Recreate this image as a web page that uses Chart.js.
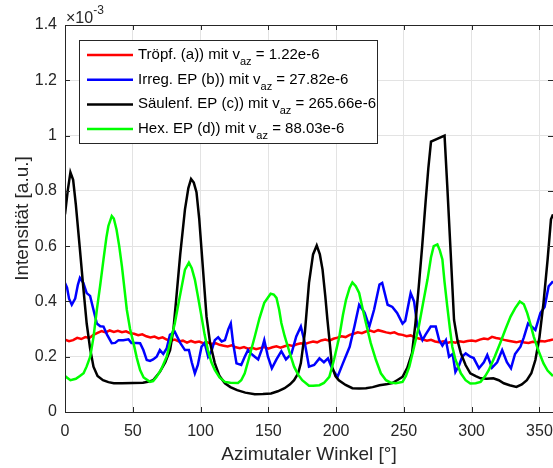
<!DOCTYPE html>
<html>
<head>
<meta charset="utf-8">
<script src="https://cdn.jsdelivr.net/npm/chart.js@4"></script>
<style>
  html, body { margin: 0; padding: 0; background: #fff; }
  canvas { display: block; }
</style>
</head>
<body>
<canvas id="intensity" width="553" height="468"></canvas>
<script>
// Intensität in Einheiten von 1e-3 a.u. (Achse zeigt x10^-3)
const legendLabels = ["Tröpf. (a)) mit v", "Irreg. EP (b)) mit v", "Säulenf. EP (c)) mit v", "Hex. EP (d)) mit v"];
const legendValues = ["1.22e-6", "27.82e-6", "265.66e-6", "88.03e-6"];
const seriesColors = ["#ff0000", "#0000ff", "#000000", "#00ff00"];
const xTicks = [0, 50, 100, 150, 200, 250, 300, 350];
const yTicks = [0, 0.2, 0.4, 0.6, 0.8, 1, 1.2, 1.4];

// Tröpfchen: ein Wert alle 3 Grad, 0..360
const redStep = 3;
const redY = [
  0.262, 0.256, 0.26, 0.268, 0.264, 0.271, 0.268, 0.279, 0.286, 0.293, 0.288, 0.295, 0.29, 0.294, 0.289, 0.292,
  0.285, 0.283, 0.278, 0.281, 0.274, 0.27, 0.273, 0.266, 0.27, 0.262, 0.258, 0.262, 0.255, 0.258, 0.251, 0.257,
  0.252, 0.255, 0.249, 0.252, 0.246, 0.249, 0.243, 0.24, 0.237, 0.241, 0.234, 0.231, 0.235, 0.229, 0.232, 0.227,
  0.231, 0.235, 0.229, 0.234, 0.238, 0.233, 0.238, 0.242, 0.239, 0.245, 0.249, 0.246, 0.251, 0.255, 0.252, 0.259,
  0.262, 0.258, 0.265, 0.269, 0.274, 0.271, 0.279, 0.283, 0.288, 0.285, 0.291, 0.295, 0.29, 0.296, 0.292, 0.288,
  0.285, 0.288, 0.281, 0.279, 0.274, 0.277, 0.27, 0.266, 0.262, 0.258, 0.261, 0.255, 0.252, 0.256, 0.25, 0.254,
  0.251, 0.256, 0.253, 0.257, 0.259, 0.256, 0.262, 0.266, 0.263, 0.272, 0.268, 0.265, 0.261, 0.258, 0.255, 0.252,
  0.256, 0.251, 0.25, 0.254, 0.252, 0.257, 0.255, 0.259, 0.262
];

// Irreguläre EP: [Winkel, Intensität]
const bluePts = [
  [0, 0.467], [1.5, 0.45], [3, 0.41], [5, 0.388], [7.5, 0.41], [9.5, 0.46], [11, 0.485], [13.5, 0.467],
  [16, 0.43], [18.5, 0.42], [21, 0.37], [23.5, 0.32], [26, 0.31], [28.4, 0.309], [31, 0.28], [34.5, 0.249],
  [37, 0.25], [39.5, 0.26], [43, 0.26], [46.8, 0.263], [49, 0.25], [53, 0.25], [55.4, 0.249], [57.8, 0.224],
  [60.3, 0.188], [62.7, 0.185], [65, 0.19], [67.6, 0.2], [70, 0.224], [72.5, 0.21], [75, 0.23], [77.4, 0.279],
  [81, 0.29], [85, 0.25], [88.5, 0.224], [91.4, 0.224], [93.5, 0.18], [95.8, 0.14], [98, 0.17], [100.7, 0.236],
  [103, 0.25], [105.6, 0.2], [108, 0.22], [110.5, 0.26], [113, 0.27], [115.6, 0.255], [118, 0.26], [120.5, 0.3],
  [122.3, 0.32], [124, 0.25], [126.5, 0.176], [130, 0.17], [132.6, 0.2], [135, 0.224], [137.5, 0.21], [140, 0.2],
  [142.5, 0.19], [145, 0.224], [147, 0.26], [149.7, 0.2], [152.6, 0.158], [156, 0.19], [159.6, 0.22], [163, 0.19],
  [167, 0.21], [170.6, 0.273], [174, 0.309], [176.7, 0.255], [180, 0.164], [183.8, 0.17], [187.7, 0.194], [191, 0.18],
  [194, 0.194], [197, 0.158], [201, 0.127], [205, 0.176], [210, 0.236], [213.5, 0.309], [217, 0.388], [221, 0.36],
  [224.5, 0.309], [228, 0.37], [232, 0.461], [234, 0.467], [238, 0.388], [241.5, 0.38], [245, 0.358], [249, 0.32],
  [251, 0.33], [255, 0.43], [257.5, 0.4], [260, 0.309], [263.7, 0.26], [266, 0.28], [269.8, 0.309], [273.5, 0.309],
  [276, 0.26], [278.4, 0.24], [281, 0.26], [283.3, 0.2], [286, 0.21], [288, 0.145], [290.8, 0.17], [293, 0.2],
  [295.6, 0.212], [299, 0.2], [301.5, 0.195], [305.4, 0.158], [309, 0.18], [311.5, 0.206], [315, 0.16], [318.8, 0.18],
  [322.5, 0.224], [326, 0.18], [329, 0.158], [332, 0.21], [336, 0.236], [338.5, 0.27], [341.6, 0.32], [344, 0.31],
  [347, 0.297], [350.7, 0.358], [353.8, 0.38], [356.8, 0.455], [360, 0.473]
];

// Säulenförmige EP
const blackPts = [
  [0, 0.715], [2, 0.8], [4, 0.867], [6, 0.84], [8, 0.75], [11, 0.588], [13.5, 0.45], [16, 0.32], [18.5, 0.23],
  [21, 0.164], [24, 0.13], [28, 0.115], [32, 0.108], [36, 0.104], [42, 0.104], [50, 0.105], [57.5, 0.106],
  [62, 0.11], [65, 0.115], [70, 0.145], [74, 0.18], [77.5, 0.224], [80, 0.3], [82, 0.406], [85, 0.57],
  [88.5, 0.733], [91, 0.81], [93, 0.843], [95, 0.83], [97, 0.795], [99, 0.7], [100.7, 0.588], [102.5, 0.47],
  [104.4, 0.345], [107, 0.25], [110.5, 0.177], [114, 0.13], [118, 0.104], [122, 0.09], [127, 0.079], [133, 0.07],
  [140, 0.064], [146, 0.065], [152, 0.067], [157, 0.075], [162, 0.086], [166, 0.1], [169, 0.115], [172, 0.14],
  [174, 0.177], [177, 0.29], [180, 0.467], [183, 0.57], [185.7, 0.602], [188, 0.57], [190, 0.515], [192, 0.42],
  [193.6, 0.333], [195.5, 0.24], [197, 0.164], [199.5, 0.13], [202, 0.115], [207, 0.098], [212, 0.086], [217, 0.085],
  [222, 0.086], [227, 0.09], [232, 0.097], [237, 0.1], [241.5, 0.105], [245, 0.115], [249, 0.127], [252.5, 0.16],
  [256, 0.213], [258.5, 0.32], [261, 0.455], [263.5, 0.6], [266, 0.759], [268, 0.88], [270, 0.978], [280, 1.0],
  [282, 0.818], [284.5, 0.577], [287, 0.333], [289.5, 0.26], [292, 0.213], [295.5, 0.17], [299, 0.14], [303, 0.13],
  [306.6, 0.122], [311, 0.12], [316, 0.122], [320, 0.115], [323.7, 0.104], [328, 0.097], [333, 0.091], [337, 0.1],
  [340.7, 0.115], [344, 0.14], [347, 0.188], [350, 0.27], [353, 0.395], [356, 0.55], [358.5, 0.697], [360, 0.715]
];

// Hexagonale EP
const greenPts = [
  [0, 0.13], [4, 0.115], [8, 0.12], [11, 0.13], [13.7, 0.14], [16, 0.165], [18.6, 0.2], [21, 0.27], [23.5, 0.37],
  [26, 0.46], [28.4, 0.552], [30.5, 0.63], [32, 0.673], [34.5, 0.709], [36, 0.7], [38, 0.66], [40, 0.6], [42, 0.527],
  [45.6, 0.37], [48, 0.3], [50.5, 0.25], [53, 0.195], [55.4, 0.152], [58, 0.125], [62.7, 0.109], [65, 0.112],
  [67.6, 0.127], [71, 0.155], [75, 0.2], [78, 0.26], [81, 0.32], [84, 0.4], [88.5, 0.515], [91.4, 0.54], [93.5, 0.52],
  [95.8, 0.479], [98, 0.42], [100.7, 0.345], [103, 0.28], [105.4, 0.224], [108, 0.18], [110.5, 0.152], [114, 0.125],
  [118, 0.109], [122, 0.106], [127.6, 0.105], [130, 0.115], [132.6, 0.14], [136, 0.2], [140, 0.273], [143.5, 0.34],
  [147, 0.395], [151.7, 0.428], [154, 0.425], [156, 0.413], [158, 0.37], [159.6, 0.322], [162, 0.275], [164.4, 0.236],
  [167, 0.195], [169, 0.164], [172, 0.135], [175, 0.115], [180, 0.095], [183, 0.095], [187.7, 0.097], [191, 0.105],
  [195, 0.127], [198.5, 0.19], [202.4, 0.273], [205, 0.35], [207.3, 0.406], [210, 0.45], [212, 0.469], [214.5, 0.455],
  [217, 0.431], [219.5, 0.375], [222, 0.322], [225.5, 0.25], [229.4, 0.188], [233, 0.14], [236.8, 0.115], [240, 0.107],
  [244, 0.104], [249, 0.109], [251.5, 0.13], [254, 0.164], [257.5, 0.235], [261, 0.309], [264, 0.39], [267.4, 0.479],
  [270, 0.56], [272, 0.6], [274.7, 0.606], [276.5, 0.585], [278.4, 0.552], [280, 0.47], [282, 0.382], [284, 0.3],
  [285.7, 0.236], [288, 0.19], [292, 0.14], [295.5, 0.115], [299, 0.103], [303, 0.104], [306.6, 0.109], [310, 0.13],
  [312.7, 0.152], [317, 0.2], [321, 0.249], [325, 0.3], [328.7, 0.345], [332, 0.375], [335.5, 0.4], [338.5, 0.39],
  [341, 0.358], [343.5, 0.315], [345.8, 0.273], [349, 0.225], [353, 0.176], [356, 0.15], [360, 0.13]
];

const FONT = "'Liberation Sans', Arial, Helvetica, sans-serif";
const AXIS_COLOR = "#262626";

const toXY = (pts) => pts.map((p) => ({ x: p[0], y: p[1] }));
const redData = redY.map((v, i) => ({ x: i * redStep, y: v }));
const allData = [redData, toXY(bluePts), toXY(blackPts), toXY(greenPts)];

// MATLAB-artiger Rahmen: Achsenlinien, Ticks nach innen, Exponent und Legende
const matlabFrame = {
  id: "matlabFrame",
  afterDatasetsDraw(chart) {
    const { ctx, chartArea: a, scales } = chart;
    ctx.save();
    ctx.strokeStyle = AXIS_COLOR;
    ctx.lineWidth = 1;
    ctx.beginPath();
    ctx.moveTo(a.left + 0.5, a.bottom + 0.5);
    ctx.lineTo(a.left + 0.5, a.top + 0.5);
    ctx.lineTo(a.right, a.top + 0.5);
    ctx.moveTo(a.left, a.bottom + 0.5);
    ctx.lineTo(a.right, a.bottom + 0.5);
    ctx.stroke();

    ctx.beginPath();
    xTicks.forEach((t) => {
      const px = Math.round(scales.x.getPixelForValue(t)) + 0.5;
      ctx.moveTo(px, a.bottom);
      ctx.lineTo(px, a.bottom - 5);
      ctx.moveTo(px, a.top);
      ctx.lineTo(px, a.top + 5);
    });
    yTicks.forEach((t) => {
      const py = Math.round(scales.y.getPixelForValue(t)) + 0.5;
      ctx.moveTo(a.left, py);
      ctx.lineTo(a.left + 5, py);
      ctx.moveTo(a.right, py);
      ctx.lineTo(a.right - 5, py);
    });
    ctx.stroke();

    // x10^-3
    ctx.fillStyle = AXIS_COLOR;
    ctx.textBaseline = "alphabetic";
    ctx.font = "16px " + FONT;
    ctx.fillText("×10", a.left + 1, 23);
    const w = ctx.measureText("×10").width;
    ctx.font = "12px " + FONT;
    ctx.fillText("-3", a.left + 1 + w, 14);

    // Legende
    ctx.fillStyle = "#ffffff";
    ctx.fillRect(79.5, 40.5, 298, 103);
    ctx.strokeStyle = AXIS_COLOR;
    ctx.lineWidth = 1;
    ctx.strokeRect(79.5, 40.5, 298, 103);
    legendLabels.forEach((label, i) => {
      const rowY = 55 + i * 24.7;
      ctx.strokeStyle = seriesColors[i];
      ctx.lineWidth = 2.5;
      ctx.beginPath();
      ctx.moveTo(87, rowY);
      ctx.lineTo(133, rowY);
      ctx.stroke();
      ctx.fillStyle = "#000000";
      ctx.font = "15px " + FONT;
      let x = 138;
      ctx.fillText(label, x, rowY + 4);
      x += ctx.measureText(label).width;
      ctx.font = "11px " + FONT;
      ctx.fillText("az", x, rowY + 10);
      x += ctx.measureText("az").width;
      ctx.font = "15px " + FONT;
      ctx.fillText(" = " + legendValues[i], x, rowY + 4);
    });
    ctx.restore();
  },
};

new Chart(document.getElementById("intensity"), {
  type: "line",
  data: {
    datasets: allData.map((d, i) => ({
      label: legendLabels[i] + "az = " + legendValues[i],
      data: d,
      borderColor: seriesColors[i],
      borderWidth: 2.5,
      pointRadius: 0,
      tension: 0,
      fill: false,
      order: 3 - i,
    })),
  },
  options: {
    responsive: false,
    animation: false,
    devicePixelRatio: 1,
    layout: { padding: { top: 25, left: 0, right: 0, bottom: 0 } },
    plugins: { legend: { display: false }, tooltip: { enabled: false } },
    scales: {
      x: {
        type: "linear",
        min: 0,
        max: 360,
        afterFit: (s) => {
          s.height = 56;
          s.paddingLeft = 0;
          s.paddingRight = 0;
        },
        grid: { color: "#e3e3e3", drawTicks: false },
        border: { display: false },
        ticks: {
          stepSize: 50,
          includeBounds: false,
          autoSkip: false,
          maxRotation: 0,
          padding: 10,
          color: AXIS_COLOR,
          font: { family: FONT, size: 16 },
        },
        title: {
          display: true,
          text: "Azimutaler Winkel [°]",
          color: AXIS_COLOR,
          font: { family: FONT, size: 19 },
          padding: { top: 0, bottom: 2 },
        },
      },
      y: {
        min: 0,
        max: 1.4,
        afterFit: (s) => {
          s.width = 65;
          s.paddingTop = 0;
          s.paddingBottom = 0;
        },
        grid: { color: "#e3e3e3", drawTicks: false },
        border: { display: false },
        ticks: {
          stepSize: 0.2,
          padding: 8,
          color: AXIS_COLOR,
          font: { family: FONT, size: 16 },
          callback: (v) => String(Number(v.toFixed(1))),
        },
        title: {
          display: true,
          text: "Intensität [a.u.]",
          color: AXIS_COLOR,
          font: { family: FONT, size: 19 },
          padding: { top: 11, bottom: 0 },
        },
      },
    },
  },
  plugins: [matlabFrame],
});
</script>
</body>
</html>
